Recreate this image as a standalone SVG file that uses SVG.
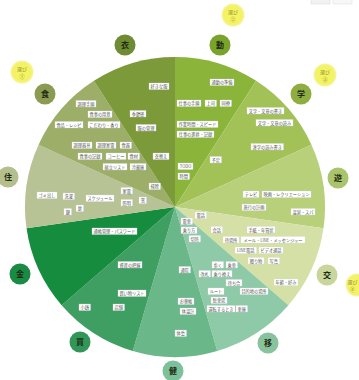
<svg xmlns="http://www.w3.org/2000/svg" width="359" height="380" viewBox="0 0 359 380">
<defs>
<radialGradient id="yg" cx="50%" cy="50%" r="50%">
<stop offset="0" stop-color="#f6f55c"/>
<stop offset="0.8" stop-color="#f3f266"/>
<stop offset="1" stop-color="#f6f5a8"/>
</radialGradient>
</defs>
<style>
.tg rect{fill:#ffffff;stroke:#d9d9d9;stroke-width:0.3}
.tg text{font-family:"Noto Sans CJK JP","Noto Sans",sans-serif;font-size:4.2px;fill:#555;text-anchor:middle}
.cat text{font-family:"Noto Sans CJK JP",sans-serif;font-size:8px;font-weight:bold;fill:#1f2a12;text-anchor:middle}
.sel circle{fill:url(#yg)}
.sel text{font-family:"Noto Sans CJK JP",sans-serif;font-size:5px;fill:#8c8c3a;text-anchor:middle}
</style>
<rect width="359" height="380" fill="#ffffff"/>
<g id="ui">
<rect x="311" y="-2" width="19" height="6" fill="#f2f2f2" stroke="#d0d0d0" stroke-width="0.4"/>
<rect x="333" y="-2" width="19" height="6" fill="#f7f7f7" stroke="#d8d8d8" stroke-width="0.4"/>
</g>
<g id="pie">
<path d="M175,207 L175,57 A150,150 0 0 1 256.09,80.80 Z" fill="#8ab43a"/>
<path d="M175,207 L256.09,80.80 A150,150 0 0 1 311.44,144.69 Z" fill="#a2c258"/>
<path d="M175,207 L311.44,144.69 A150,150 0 0 1 323.47,228.35 Z" fill="#b8d07a"/>
<path d="M175,207 L323.47,228.35 A150,150 0 0 1 288.36,305.24 Z" fill="#d5e0a6"/>
<path d="M175,207 L288.36,305.24 A150,150 0 0 1 217.25,350.93 Z" fill="#8fcaa8"/>
<path d="M175,207 L217.25,350.93 A150,150 0 0 1 132.75,350.93 Z" fill="#6ab789"/>
<path d="M175,207 L132.75,350.93 A150,150 0 0 1 61.64,305.24 Z" fill="#3f9f62"/>
<path d="M175,207 L61.64,305.24 A150,150 0 0 1 26.53,228.35 Z" fill="#168c3f"/>
<path d="M175,207 L26.53,228.35 A150,150 0 0 1 38.56,144.69 Z" fill="#b7c394"/>
<path d="M175,207 L38.56,144.69 A150,150 0 0 1 93.91,80.80 Z" fill="#9cae68"/>
<path d="M175,207 L93.91,80.80 A150,150 0 0 1 175,57 Z" fill="#7c9a3a"/>
</g>
<g id="categories" class="cat">
<g id="c-i"><circle cx="125" cy="45" r="10.5" fill="#6f8c34"/><text x="125" y="48">衣</text></g>
<g id="c-do"><circle cx="220" cy="45" r="10.5" fill="#7aa32c"/><text x="220" y="48">動</text></g>
<g id="c-gaku"><circle cx="301" cy="94" r="10.5" fill="#8fae42"/><text x="301" y="97">学</text></g>
<g id="c-yu"><circle cx="338" cy="178" r="10.5" fill="#aac46c"/><text x="338" y="181">遊</text></g>
<g id="c-ko"><circle cx="327" cy="275" r="10.5" fill="#c8d69c"/><text x="327" y="278">交</text></g>
<g id="c-i2"><circle cx="268" cy="343" r="10.5" fill="#88c39d"/><text x="268" y="346">移</text></g>
<g id="c-ken"><circle cx="173" cy="371" r="10.5" fill="#7cc199"/><text x="173" y="374">健</text></g>
<g id="c-kai"><circle cx="80" cy="342" r="10.5" fill="#319758"/><text x="80" y="345">買</text></g>
<g id="c-kin"><circle cx="20" cy="274" r="10.5" fill="#1a8b44"/><text x="20" y="277">金</text></g>
<g id="c-ju"><circle cx="8" cy="177" r="10.5" fill="#b4bf8d"/><text x="8" y="180">住</text></g>
<g id="c-shoku"><circle cx="45" cy="94" r="10.5" fill="#8b9c52"/><text x="45" y="97">食</text></g>
</g>
<g id="selections" class="sel">
<g id="s1"><circle cx="22" cy="72" r="11.5"/><text x="22" y="71">選び</text><text x="22" y="78">①</text></g>
<g id="s2"><circle cx="233" cy="15" r="11.5"/><text x="233" y="14">選び</text><text x="233" y="21">②</text></g>
<g id="s3"><circle cx="325" cy="75" r="11.5"/><text x="325" y="74">選び</text><text x="325" y="81">③</text></g>
<g id="s4"><circle cx="357" cy="285" r="11.5"/><text x="352.5" y="284">選び</text><text x="352.5" y="291">④</text></g>
</g>
<g id="tags" class="tg">
<g><rect x="149" y="83" width="20" height="6.5"/><text x="159" y="88">好きな服</text></g>
<g><rect x="130" y="110.5" width="16" height="6.5"/><text x="138" y="115.5">季節感</text></g>
<g><rect x="136" y="124.5" width="20" height="6.5"/><text x="146" y="129.5">服の管理</text></g>
<g><rect x="153" y="153" width="16" height="6.5"/><text x="161" y="158">衣替え</text></g>
<g><rect x="76" y="100.5" width="20" height="6.5"/><text x="86" y="105.5">調理手順</text></g>
<g><rect x="88" y="111" width="24" height="6.5"/><text x="100" y="116">食事の用意</text></g>
<g><rect x="55" y="121.5" width="28" height="6.5"/><text x="69" y="126.5">食品・レシピ</text></g>
<g><rect x="88" y="121.5" width="32" height="6.5"/><text x="104" y="126.5">こだわり・香り</text></g>
<g><rect x="72" y="142" width="20" height="6.5"/><text x="82" y="147">調理器具</text></g>
<g><rect x="96" y="142" width="20" height="6.5"/><text x="106" y="147">調理家電</text></g>
<g><rect x="120" y="142" width="11.5" height="6.5"/><text x="125.75" y="147">食器</text></g>
<g><rect x="78" y="153" width="24" height="6.5"/><text x="90" y="158">食事の記録</text></g>
<g><rect x="106" y="153" width="20" height="6.5"/><text x="116" y="158">コーヒー</text></g>
<g><rect x="128" y="153" width="11.5" height="6.5"/><text x="133.75" y="158">食材</text></g>
<g><rect x="103" y="163.5" width="24" height="6.5"/><text x="115" y="168.5">献立リスト</text></g>
<g><rect x="130" y="163.5" width="16" height="6.5"/><text x="138" y="168.5">冷蔵庫</text></g>
<g><rect x="37" y="192" width="20" height="6.5"/><text x="47" y="197">ゴミ出し</text></g>
<g><rect x="63" y="193" width="11.5" height="6.5"/><text x="68.75" y="198">洗濯</text></g>
<g><rect x="86" y="195" width="28" height="6.5"/><text x="100" y="200">スケジュール</text></g>
<g><rect x="121" y="187.5" width="11.5" height="6.5"/><text x="126.75" y="192.5">家電</text></g>
<g><rect x="121" y="199.5" width="11.5" height="6.5"/><text x="126.75" y="204.5">照明</text></g>
<g><rect x="139" y="197" width="7.5" height="6.5"/><text x="142.75" y="202">窓</text></g>
<g><rect x="64" y="208.5" width="7.5" height="6.5"/><text x="67.75" y="213.5">鍵</text></g>
<g><rect x="76" y="205" width="7.5" height="6.5"/><text x="79.75" y="210">扉</text></g>
<g><rect x="149" y="183" width="11.5" height="6.5"/><text x="154.75" y="188">掃除</text></g>
<g><rect x="92" y="228" width="45" height="6.5"/><text x="114.5" y="233">通帳管理・パスワード</text></g>
<g><rect x="118" y="261.5" width="24" height="6.5"/><text x="130" y="266.5">資産の把握</text></g>
<g><rect x="118" y="290" width="28" height="6.5"/><text x="132" y="295">買い物リスト</text></g>
<g><rect x="79" y="304" width="11.5" height="6.5"/><text x="84.75" y="309">小銭</text></g>
<g><rect x="113" y="304" width="11.5" height="6.5"/><text x="118.75" y="309">店舗</text></g>
<g><rect x="179" y="266.5" width="11.5" height="6.5"/><text x="184.75" y="271.5">通院</text></g>
<g><rect x="178" y="298" width="16" height="6.5"/><text x="186" y="303">お薬帳</text></g>
<g><rect x="180" y="308" width="16" height="6.5"/><text x="188" y="313">体温計</text></g>
<g><rect x="175" y="330" width="11.5" height="6.5"/><text x="180.75" y="335">体重</text></g>
<g><rect x="212" y="261.5" width="11.5" height="6.5"/><text x="217.75" y="266.5">歩く</text></g>
<g><rect x="226" y="261.5" width="11.5" height="6.5"/><text x="231.75" y="266.5">乗車</text></g>
<g><rect x="199" y="270.5" width="11.5" height="6.5"/><text x="204.75" y="275.5">改札</text></g>
<g><rect x="212" y="270.5" width="20" height="6.5"/><text x="222" y="275.5">乗り換え</text></g>
<g><rect x="226" y="279.5" width="16" height="6.5"/><text x="234" y="284.5">待ち合</text></g>
<g><rect x="240" y="288" width="28" height="6.5"/><text x="254" y="293">目的地の場所</text></g>
<g><rect x="208" y="288" width="16" height="6.5"/><text x="216" y="293">ルート</text></g>
<g><rect x="211" y="297" width="16" height="6.5"/><text x="219" y="302">駐車場</text></g>
<g><rect x="207" y="305.5" width="28" height="6.5"/><text x="221" y="310.5">運転するとき</text></g>
<g><rect x="236" y="305.5" width="11.5" height="6.5"/><text x="241.75" y="310.5">車庫</text></g>
<g><rect x="274" y="279" width="24" height="6.5"/><text x="286" y="284">年齢・好み</text></g>
<g><rect x="211" y="226.5" width="11.5" height="6.5"/><text x="216.75" y="231.5">会話</text></g>
<g><rect x="247" y="226.5" width="28" height="6.5"/><text x="261" y="231.5">手紙・年賀状</text></g>
<g><rect x="223" y="236.5" width="16" height="6.5"/><text x="231" y="241.5">待場所</text></g>
<g><rect x="241" y="236.5" width="64" height="6.5"/><text x="273" y="241.5">メール・LINE・メッセンジャー</text></g>
<g><rect x="235" y="247" width="21.5" height="6.5"/><text x="245.75" y="252">LINE電話</text></g>
<g><rect x="259" y="247" width="24" height="6.5"/><text x="271" y="252">ビデオ通話</text></g>
<g><rect x="248" y="257.5" width="16" height="6.5"/><text x="256" y="262.5">贈り物</text></g>
<g><rect x="268" y="257.5" width="11.5" height="6.5"/><text x="273.75" y="262.5">写真</text></g>
<g><rect x="243" y="191" width="16" height="6.5"/><text x="251" y="196">テレビ</text></g>
<g><rect x="262" y="191" width="49" height="6.5"/><text x="286.5" y="196">映画・レクリエーション</text></g>
<g><rect x="242" y="204" width="24" height="6.5"/><text x="254" y="209">旅行の計画</text></g>
<g><rect x="291" y="208.5" width="24" height="6.5"/><text x="303" y="213.5">温泉・スパ</text></g>
<g><rect x="247" y="107.5" width="37" height="6.5"/><text x="265.5" y="112.5">文字・文章の書き</text></g>
<g><rect x="256" y="119.5" width="37" height="6.5"/><text x="274.5" y="124.5">文字・文章の読み</text></g>
<g><rect x="251" y="143.5" width="32.5" height="6.5"/><text x="267.25" y="148.5">漢字の読み書き</text></g>
<g><rect x="210" y="79" width="24" height="6.5"/><text x="222" y="84">通勤の準備</text></g>
<g><rect x="177" y="100" width="24" height="6.5"/><text x="189" y="105">仕事の手順</text></g>
<g><rect x="205" y="100" width="11.5" height="6.5"/><text x="210.75" y="105">上司</text></g>
<g><rect x="220" y="100" width="11.5" height="6.5"/><text x="225.75" y="105">同僚</text></g>
<g><rect x="177" y="121" width="41" height="6.5"/><text x="197.5" y="126">作業時間・スピード</text></g>
<g><rect x="177" y="131" width="37" height="6.5"/><text x="195.5" y="136">仕事の進捗・記録</text></g>
<g><rect x="210" y="156.5" width="11.5" height="6.5"/><text x="215.75" y="161.5">予定</text></g>
<g><rect x="178" y="163" width="15" height="6.5"/><text x="185.5" y="168">TODO</text></g>
<g><rect x="178" y="173" width="11.5" height="6.5"/><text x="183.75" y="178">時間</text></g>
<g><rect x="195" y="212" width="11.5" height="6.5"/><text x="200.75" y="217">電話</text></g>
<g><rect x="181" y="218" width="11.5" height="6.5"/><text x="186.75" y="223">電車</text></g>
<g><rect x="181" y="227" width="16" height="6.5"/><text x="189" y="232">乗り方</text></g>
<g><rect x="189" y="235.5" width="11.5" height="6.5"/><text x="194.75" y="240.5">切符</text></g>
</g>
</svg>
